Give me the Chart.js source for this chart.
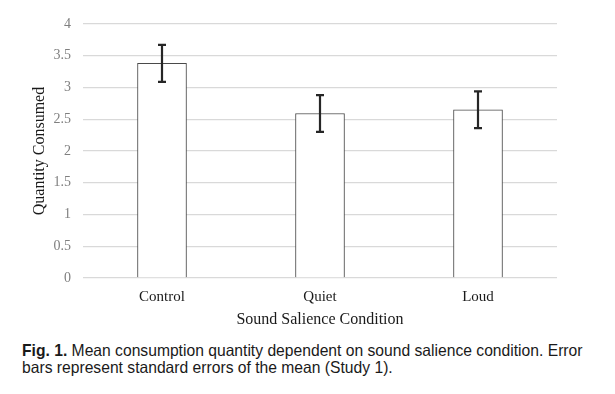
<!DOCTYPE html>
<html>
<head>
<meta charset="utf-8">
<script src="https://cdn.jsdelivr.net/npm/chart.js@4/dist/chart.umd.min.js"></script>
<style>
  html, body { margin: 0; padding: 0; background: #fff; }
  #wrap { position: relative; width: 615px; height: 394px; overflow: hidden; }
  #box { position: absolute; left: 0; top: 0; width: 615px; height: 335px; }
  #caption { position: absolute; left: 22px; top: 342px; width: 590px;
    font-family: "Liberation Sans", Arial, sans-serif; font-size: 15.5px; line-height: 17px; color: #1a1a1a; white-space: nowrap; }
  #caption b { font-weight: bold; }
  #caption span { display: inline-block; }
</style>
</head>
<body>
<div id="wrap">
  <div id="box"><canvas id="c" width="615" height="335"></canvas></div>
  <div id="caption"><div><span id="l1"><b>Fig. 1.</b> Mean consumption quantity dependent on sound salience condition. Error</span></div><div><span id="l2">bars represent standard errors of the mean (Study 1).</span></div></div>
</div>
<script>
const categories = ["Control", "Quiet", "Loud"];
const means = [3.38, 2.59, 2.65];
const stdErrors = [0.29, 0.29, 0.29];
const yTicks = [0, 0.5, 1, 1.5, 2, 2.5, 3, 3.5, 4];
const yTitle = "Quantity Consumed";
const xTitle = "Sound Salience Condition";

// fit caption line 1 to the reference width
(function () {
  const cap = document.getElementById('caption');
  const l1 = document.getElementById('l1');
  const w = l1.getBoundingClientRect().width;
  const size = 15.5 * 561 / w;
  cap.style.fontSize = size.toFixed(2) + 'px';
})();

const errorBars = {
  id: 'errorBars',
  afterDatasetsDraw(chart) {
    const ctx = chart.ctx;
    const meta = chart.getDatasetMeta(0);
    const ys = chart.scales.y;
    ctx.save();
    ctx.strokeStyle = '#262626';
    ctx.lineWidth = 2.2;
    meta.data.forEach((bar, i) => {
      const x = bar.x;
      const top = ys.getPixelForValue(means[i] + stdErrors[i]);
      const bot = ys.getPixelForValue(means[i] - stdErrors[i]);
      ctx.beginPath();
      ctx.moveTo(x, top); ctx.lineTo(x, bot);
      ctx.moveTo(x - 4, top); ctx.lineTo(x + 4, top);
      ctx.moveTo(x - 4, bot); ctx.lineTo(x + 4, bot);
      ctx.stroke();
    });
    ctx.restore();
  }
};

new Chart(document.getElementById('c'), {
  type: 'bar',
  data: {
    labels: categories,
    datasets: [{
      data: means,
      backgroundColor: '#ffffff',
      borderColor: '#4a4a4a',
      borderWidth: 1,
      barThickness: 49
    }]
  },
  options: {
    responsive: false,
    animation: false,
    events: [],
    layout: { padding: { left: 0, right: 58, top: 24, bottom: 0 } },
    plugins: { legend: { display: false }, tooltip: { enabled: false } },
    scales: {
      x: {
        grid: { display: false, drawTicks: false },
        border: { display: false },
        ticks: { color: '#1a1a1a', padding: 10, font: { family: 'Liberation Serif', size: 15 } },
        title: { display: true, text: xTitle, color: '#1a1a1a', font: { family: 'Liberation Serif', size: 16 }, padding: { top: 0, bottom: 6 } },
        afterFit(s) { s.height = 57; }
      },
      y: {
        min: 0, max: 4,
        afterBuildTicks(s) { s.ticks = yTicks.map(v => ({ value: v })); },
        grid: { color: '#d9d9d9', lineWidth: 1.3, drawTicks: false },
        border: { display: false },
        ticks: { color: '#7f7f7f', padding: 12, font: { family: 'Liberation Serif', size: 14 },
                 callback: (v) => String(v) },
        title: { display: true, text: yTitle, color: '#1a1a1a', font: { family: 'Liberation Serif', size: 16 }, padding: { top: 30, bottom: 0 } },
        afterFit(s) { s.width = 83; }
      }
    }
  },
  plugins: [errorBars]
});
</script>
</body>
</html>
